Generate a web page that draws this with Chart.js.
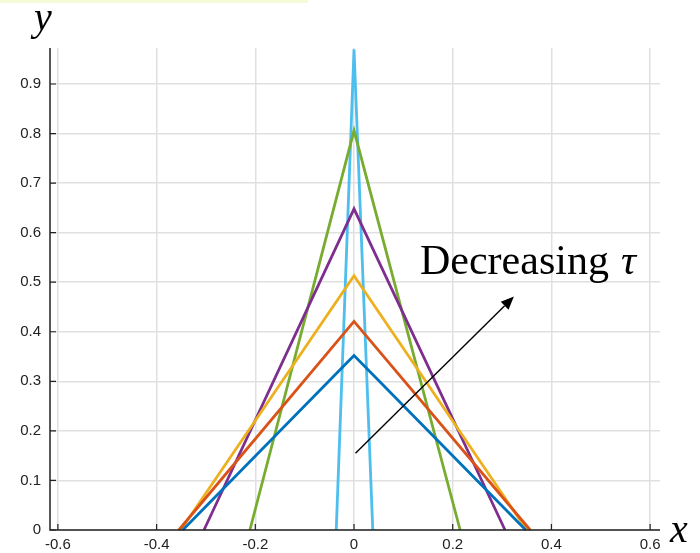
<!DOCTYPE html>
<html>
<head>
<meta charset="utf-8">
<script src="https://cdn.jsdelivr.net/npm/chart.js@4/dist/chart.umd.min.js"></script>
<style>
  html, body { margin: 0; padding: 0; background: #fff; }
  #wrap { position: relative; width: 700px; height: 553px; }
  #topbar { position: absolute; left: 0; top: 0; width: 308px; height: 3px; background: #f6fad6; }
</style>
</head>
<body>
<div id="wrap">
  <div id="topbar"></div>
  <canvas id="tauChart" width="700" height="553"></canvas>
</div>
<script>
// triangles: left foot, peak, right foot (peak always at x = 0)
const seriesColors = ['#0072BD', '#D95319', '#EDB120', '#7E2F8E', '#77AC30', '#4DBEEE'];
const leftFeet = [-0.347, -0.355, -0.351, -0.304, -0.211, -0.036];
const rightFeet = [0.348, 0.357, 0.350, 0.306, 0.215, 0.038];
const peakX = 0;
const peaks = [0.352, 0.421, 0.513, 0.648, 0.806, 0.97];

const xTicks = [-0.6, -0.4, -0.2, 0, 0.2, 0.4, 0.6];
const yTicks = [0, 0.1, 0.2, 0.3, 0.4, 0.5, 0.6, 0.7, 0.8, 0.9];

// arrow annotation (data coords)
const arrowFrom = [0.003, 0.155];
const arrowTo = [0.324, 0.471];
const annotationWord = 'Decreasing';
const annotationSym = 'τ';

const datasets = peaks.map((p, i) => ({
    data: [
        { x: leftFeet[i], y: 0 },
        { x: peakX, y: p },
        { x: rightFeet[i], y: 0 }
    ],
    borderColor: seriesColors[i],
    borderWidth: 2.8,
    pointRadius: 0,
    fill: false,
    tension: 0,
    borderJoinStyle: 'miter',
    clip: false
}));

const extras = {
    id: 'extras',
    afterDatasetsDraw(chart) {
        const ctx = chart.ctx;
        const xs = chart.scales.x, ys = chart.scales.y;
        const area = chart.chartArea;
        ctx.save();

        // axis lines
        ctx.strokeStyle = '#222';
        ctx.lineWidth = 1.5;
        ctx.beginPath();
        ctx.moveTo(area.left, area.top);
        ctx.lineTo(area.left, area.bottom);
        ctx.lineTo(area.right, area.bottom);
        ctx.stroke();

        // inward tick marks
        ctx.lineWidth = 1.2;
        ctx.beginPath();
        xTicks.forEach(v => {
            const px = xs.getPixelForValue(v);
            ctx.moveTo(px, area.bottom);
            ctx.lineTo(px, area.bottom - 6);
        });
        yTicks.forEach(v => {
            const py = ys.getPixelForValue(v);
            ctx.moveTo(area.left, py);
            ctx.lineTo(area.left + 6, py);
        });
        ctx.stroke();

        // arrow
        const x0 = xs.getPixelForValue(arrowFrom[0]), y0 = ys.getPixelForValue(arrowFrom[1]);
        const x1 = xs.getPixelForValue(arrowTo[0]), y1 = ys.getPixelForValue(arrowTo[1]);
        const ang = Math.atan2(y1 - y0, x1 - x0);
        const headLen = 13, headW = 5.5;
        const bx = x1 - headLen * Math.cos(ang), by = y1 - headLen * Math.sin(ang);
        ctx.strokeStyle = '#000';
        ctx.fillStyle = '#000';
        ctx.lineWidth = 1.4;
        ctx.beginPath();
        ctx.moveTo(x0, y0);
        ctx.lineTo(bx, by);
        ctx.stroke();
        ctx.beginPath();
        ctx.moveTo(x1, y1);
        ctx.lineTo(bx + headW * Math.sin(ang), by - headW * Math.cos(ang));
        ctx.lineTo(bx - headW * Math.sin(ang), by + headW * Math.cos(ang));
        ctx.closePath();
        ctx.fill();

        // text labels
        ctx.fillStyle = '#000';
        ctx.textBaseline = 'alphabetic';
        ctx.textAlign = 'left';
        ctx.font = '42px "Liberation Serif", "DejaVu Serif", serif';
        ctx.fillText(annotationWord, 420, 274);
        const w = ctx.measureText(annotationWord).width;
        ctx.font = 'italic 42px "Liberation Serif", "DejaVu Serif", serif';
        ctx.fillText(annotationSym, 420 + w + 12, 274);
        ctx.font = 'italic 40px "Liberation Serif", "DejaVu Serif", serif';
        ctx.fillText('y', 34, 30);
        ctx.fillText('x', 670, 542);
        ctx.restore();
    }
};

const ctx = document.getElementById('tauChart').getContext('2d');
new Chart(ctx, {
    type: 'line',
    data: { datasets: datasets },
    options: {
        responsive: false,
        animation: false,
        events: [],
        layout: { padding: { left: 0, right: 40, top: 48, bottom: 0 } },
        plugins: {
            legend: { display: false },
            tooltip: { enabled: false },
            title: { display: false }
        },
        scales: {
            x: {
                type: 'linear',
                min: -0.616,
                max: 0.62,
                border: { display: false },
                grid: { color: '#e0e0e0', lineWidth: 1.5, drawTicks: false },
                afterBuildTicks: scale => { scale.ticks = xTicks.map(v => ({ value: v })); },
                afterFit: scale => { scale.height = 23; },
                ticks: {
                    padding: 6,
                    color: '#222',
                    font: { family: '"Liberation Sans", Arial, sans-serif', size: 15 },
                    maxRotation: 0,
                    autoSkip: false,
                    callback: v => String(Math.round(v * 10) / 10)
                }
            },
            y: {
                type: 'linear',
                min: 0,
                max: 0.9726,
                border: { display: false },
                grid: { color: '#e0e0e0', lineWidth: 1.5, drawTicks: false },
                afterBuildTicks: scale => { scale.ticks = yTicks.map(v => ({ value: v })); },
                afterFit: scale => { scale.width = 50; },
                ticks: {
                    padding: 9,
                    color: '#222',
                    font: { family: '"Liberation Sans", Arial, sans-serif', size: 15 },
                    autoSkip: false,
                    callback: v => String(Math.round(v * 10) / 10)
                }
            }
        }
    },
    plugins: [extras]
});
</script>
</body>
</html>
